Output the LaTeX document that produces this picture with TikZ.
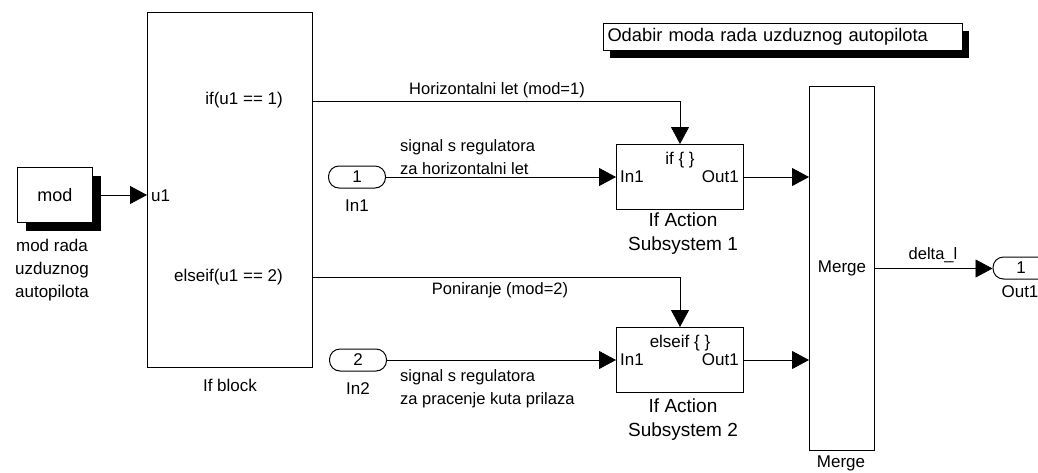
\documentclass[tikz,border=0pt]{standalone}
\usepackage{fontspec}
\setmainfont{Liberation Sans}
\usetikzlibrary{arrows.meta,calc,shadows}
\begin{document}
\begin{tikzpicture}[x=1pt,y=-1pt,
  every node/.style={font=\fontsize{17}{23}\selectfont, inner sep=0pt},
  blk/.style={draw, line width=1pt, fill=white, anchor=north west},
  shad/.style={drop shadow={shadow xshift=8pt, shadow yshift=-8pt, fill=black, opacity=1}},
  port/.style={draw, line width=1pt, rounded corners=10.5pt, fill=white, minimum width=57pt, minimum height=22pt},
  sig/.style={line width=0.8pt, -{Triangle[length=17pt,width=18pt]}},
  siglbl/.style={font=\fontsize{16.5}{23}\selectfont},
  sublbl/.style={align=center, font=\fontsize{19}{24}\selectfont},
  lbl/.style={align=center}
]
\useasboundingbox (0,0) rectangle (1038,472);
\clip (0,0) rectangle (1038,472);
\fill[white] (0,0) rectangle (1038,472);

% annotation
\node[blk, drop shadow={shadow xshift=6pt, shadow yshift=-7pt, fill=black, opacity=1},
      minimum width=359pt, minimum height=27pt, text width=351pt, align=left,
      font=\fontsize{18.3}{20}\selectfont] (ann) at (603,23) {Odabir moda rada uzduznog autopilota};

% mod source
\node[blk, shad, minimum width=75pt, minimum height=55pt, font=\fontsize{18}{23}\selectfont] (mod) at (17,167) {mod};
\node[lbl] (modlbl) at (52,270) {mod rada\\uzduznog\\autopilota};

% If block
\node[blk, minimum width=165pt, minimum height=355pt] (ifb) at (147,12) {};
\node[anchor=west] (u1) at (151,196) {u1};
\node[anchor=east] (ift1) at (283,100) {if(u1 == 1)};
\node[anchor=east] (ift2) at (283,277) {elseif(u1 == 2)};
\node (ifblbl) at (230,385) {If block};
\coordinate (c1) at ($(ifb.north east)+(0,89)$);
\coordinate (c2) at ($(ifb.north east)+(0,265)$);

% inports
\node[port] (in1) at (357,177) {1};
\node (in1lbl) at (357,206) {In1};
\node[port] (in2) at (358,360) {2};
\node (in2lbl) at (358,389) {In2};

% subsystems
\node[blk, minimum width=127pt, minimum height=65pt] (sub1) at (616,144) {};
\node (s1if) at (680,160) {if \{ \}};
\node[anchor=west] (s1in) at (620,177) {In1};
\node[anchor=east] (s1out) at (739,177) {Out1};
\node[sublbl] (s1lbl) at (683,234) {If Action\\Subsystem 1};

\node[blk, minimum width=127pt, minimum height=65pt] (sub2) at (616,327) {};
\node (s2if) at (680,343) {elseif \{ \}};
\node[anchor=west] (s2in) at (620,360) {In1};
\node[anchor=east] (s2out) at (739,360) {Out1};
\node[sublbl] (s2lbl) at (683,420) {If Action\\Subsystem 2};

% merge
\node[blk, minimum width=65pt, minimum height=364pt] (merge) at (809,86) {Merge};
\node (mlbl) at (841,463) {Merge};

% outport
\node[port, minimum width=56pt] (out1) at (1021,268) {1};
\node (out1lbl) at (1020,292) {Out1};

% connectors
\draw[sig] (mod.east) -- (mod.east -| ifb.west);
\draw[sig] (c1) -| (sub1.north);
\node[siglbl] (h1) at (497,90) {Horizontalni let (mod=1)};
\draw[sig] (c2) -| (sub2.north);
\node[siglbl] (h2) at (500,290) {Poniranje (mod=2)};
\draw[sig] (in1.east) -- (in1.east -| sub1.west);
\node[siglbl, anchor=west, align=left] (sl1) at (400,157) {signal s regulatora\\za horizontalni let};
\draw[sig] (in2.east) -- (in2.east -| sub2.west);
\node[siglbl, anchor=west, align=left] (sl2) at (400,389) {signal s regulatora\\za pracenje kuta prilaza};
\draw[sig] (sub1.east) -- (sub1.east -| merge.west);
\draw[sig] (sub2.east) -- (sub2.east -| merge.west);
\draw[sig] (merge.east) -- (merge.east -| out1.west);
\node[siglbl] (dl) at (933,255) {delta\_l};
\end{tikzpicture}
\end{document}
